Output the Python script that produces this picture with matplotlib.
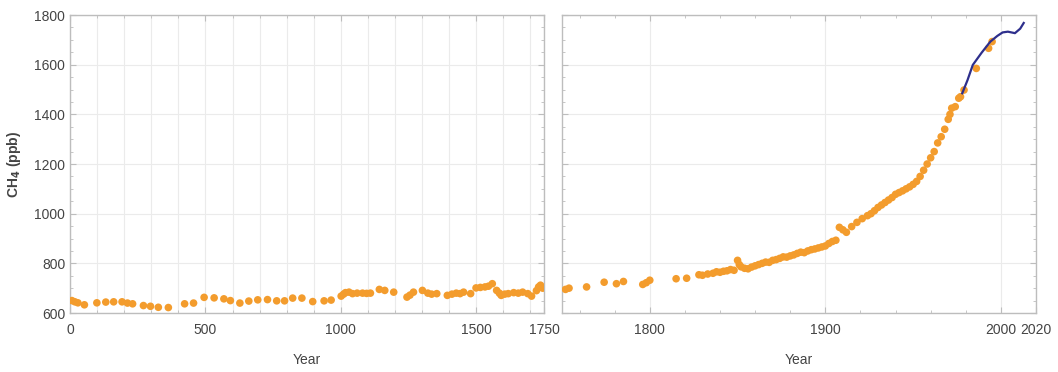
import matplotlib.pyplot as plt
from matplotlib.ticker import MultipleLocator, FixedLocator

# ice core CH4, years 0-1750
early_year = [7, 18, 29, 53, 99, 132, 161, 192, 212, 231, 271, 297, 326, 363,
              423, 456, 495, 532, 568, 592, 627, 660, 693, 729, 763, 792, 822,
              856, 896, 938, 964, 1001, 1010, 1017, 1030, 1043, 1060, 1080, 1095,
              1109, 1142, 1162, 1195, 1244, 1255, 1268, 1301, 1321, 1335, 1354,
              1393, 1410, 1426, 1440, 1453, 1479, 1499, 1515, 1532, 1545, 1559,
              1575, 1585, 1592, 1605, 1618, 1638, 1655, 1671, 1690, 1704, 1722,
              1730, 1737, 1745]
early_ppb = [650, 645, 641, 633, 641, 644, 645, 645, 640, 637, 630, 627, 623, 622,
             637, 640, 663, 661, 657, 650, 640, 648, 653, 654, 649, 649, 660,
             660, 646, 649, 652, 668, 676, 682, 684, 678, 680, 680, 679,
             680, 695, 691, 684, 664, 672, 684, 691, 680, 676, 678,
             671, 676, 680, 678, 684, 678, 701, 703, 705, 708, 718,
             691, 680, 671, 676, 678, 682, 680, 684, 678, 668, 690,
             705, 712, 700]

# ice core / firn CH4, years 1750-2000
late_year = [1752, 1754, 1764, 1774, 1781, 1785, 1796, 1798, 1800, 1815, 1821,
             1828, 1830, 1833, 1836, 1838, 1840, 1842, 1844, 1846, 1848, 1850,
             1851, 1852, 1854, 1856, 1858, 1860, 1862, 1864, 1866, 1868, 1870,
             1872, 1874, 1876, 1878, 1880, 1882, 1884, 1886, 1888, 1890, 1892,
             1894, 1896, 1898, 1900, 1902, 1904, 1906, 1908, 1910, 1912, 1915,
             1918, 1921, 1924, 1926, 1928, 1930, 1932, 1934, 1936, 1938, 1940,
             1942, 1944, 1946, 1948, 1950, 1952, 1954, 1956, 1958, 1960, 1962,
             1964, 1966, 1968, 1970, 1971, 1972, 1974, 1976, 1977, 1979, 1986,
             1993, 1995]
late_ppb = [695, 700, 705, 724, 718, 727, 715, 722, 732, 738, 740,
            754, 752, 757, 760, 766, 764, 768, 770, 775, 772, 812,
            795, 786, 780, 778, 785, 790, 795, 800, 805, 804, 812,
            815, 820, 826, 825, 830, 834, 840, 845, 843, 850, 855,
            858, 862, 866, 870, 880, 888, 893, 945, 935, 925, 948,
            965, 980, 992, 1000, 1012, 1025, 1035, 1045, 1055, 1065, 1078,
            1085, 1092, 1100, 1108, 1118, 1130, 1150, 1175, 1200, 1225, 1250,
            1285, 1310, 1340, 1380, 1400, 1425, 1431, 1465, 1471, 1498, 1585,
            1666, 1693]

# atmospheric measurements
obs_year = [1978, 1981, 1984, 1989, 1994, 1998, 2001, 2004, 2008, 2011, 2013]
obs_ppb = [1485, 1538, 1599, 1648, 1693, 1716, 1730, 1733, 1727, 1745, 1768]

orange = "#F39C2D"
navy = "#2E2F8C"
frame = "#BDBDBD"
txt = "#444444"

plt.rcParams["font.family"] = ["Liberation Sans", "DejaVu Sans"]

fig = plt.figure(figsize=(10.58, 3.72), dpi=100)
ax1 = fig.add_axes([0.0662, 0.1586, 0.448, 0.801])
ax2 = fig.add_axes([0.5312, 0.1586, 0.448, 0.801])

ax1.scatter(early_year, early_ppb, s=30, color=orange, edgecolors="none", zorder=3)
ax2.scatter(late_year, late_ppb, s=30, color=orange, edgecolors="none", zorder=3)
ax2.plot(obs_year, obs_ppb, color=navy, lw=1.6, zorder=4)

ax1.set_xlim(0, 1750)
ax2.set_xlim(1750, 2020)
for ax in (ax1, ax2):
    ax.set_ylim(600, 1800)
    ax.yaxis.set_major_locator(MultipleLocator(200))
    ax.yaxis.set_minor_locator(MultipleLocator(50))
    ax.tick_params(which="both", direction="in", top=True, right=True,
                   color=frame, labelcolor=txt, labelsize=10)
    ax.tick_params(which="major", length=4)
    ax.tick_params(which="minor", length=2)
    ax.tick_params(axis="x", pad=7)
    for sp in ax.spines.values():
        sp.set_color(frame)
        sp.set_linewidth(1.0)
    ax.grid(True, which="major", color="#EBEBEB", lw=0.8, zorder=0)
    ax.set_xlabel("Year", color=txt, fontsize=10, labelpad=12)

ax1.xaxis.set_major_locator(FixedLocator([0, 500, 1000, 1500, 1750]))
ax1.xaxis.set_minor_locator(MultipleLocator(100))
ax1.grid(True, which="minor", axis="x", color="#EBEBEB", lw=0.8, zorder=0)

ax2.xaxis.set_major_locator(FixedLocator([1800, 1900, 2000, 2020]))
ax2.xaxis.set_minor_locator(MultipleLocator(20))
ax2.tick_params(axis="y", labelleft=False)

ax1.set_ylabel(r"CH$_\mathbf{4}$ (ppb)", color=txt, fontsize=10,
               fontweight="bold", labelpad=8)

fig.savefig("out.png", dpi=100, facecolor="white")
